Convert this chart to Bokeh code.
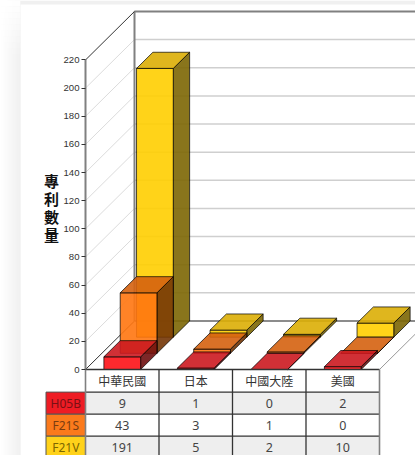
from bokeh.plotting import figure
from bokeh.embed import file_html
from bokeh.resources import INLINE
from bokeh.core.properties import value
from bokeh.models import FixedTicker

categories = ["中華民國", "日本", "中國大陸", "美國"]
series_names = ["H05B", "F21S", "F21V"]
h05b = [9, 1, 0, 2]
f21s = [43, 3, 1, 0]
f21v = [191, 5, 2, 10]
y_ticks = [0, 20, 40, 60, 80, 100, 120, 140, 160, 180, 200, 220]
y_title = ["專", "利", "數", "量"]

front_colors = ["#fe1217", "#ff760f", "#ffce00"]
top_colors = ["#cc1a20", "#d56210", "#dcae05"]
side_colors = ["#6f0f10", "#733505", "#7c6603"]
head_colors = ["#ee1c24", "#fb7a1c", "#ffd21a"]
head_text = ["#7a1014", "#7a3c10", "#7c6600"]
row_fill = ["#eeeeee", "#ffffff", "#eeeeee"]

# layout, in page pixels
W, H = 415, 455
X0, Y0, COL, PPU = 85.0, 369.0, 73.5, 1.407
DX, DY = 49.0, 48.5           # depth of the box
ROWS = [369.0, 391.6, 413.7, 435.7, 457.5]
HEAD_L = 45.5
TITLE_X, TITLE_Y, TITLE_STEP = 51.0, 179.5, 18.0

def cx(px): return (px - X0) / COL
def vy(px): return (Y0 - px) / PPU
def dep_x(d): return d * DX / COL
def dep_y(d): return d * DY / PPU

p = figure(width=W, height=H, output_backend="svg", toolbar_location=None,
           x_range=(cx(0), cx(W)), y_range=(vy(H), vy(0)),
           x_axis_location=None, min_border=0, min_border_left=0, min_border_right=0,
           min_border_top=0, min_border_bottom=0, outline_line_color=None,
           background_fill_color="#ffffff", border_fill_color="#ffffff")
p.grid.visible = False

# page shadow round the white sheet, fading out towards the top
shade = ["#ffffff", "#fefefe", "#fdfdfd", "#fcfcfc", "#fbfbfb", "#fafafa", "#f9f9f9", "#f8f8f8", "#f7f7f7", "#f6f6f6",
         "#f5f5f5", "#f4f4f4", "#f3f3f3", "#f2f2f2", "#f1f1f1", "#f0f0f0", "#efefef", "#eeeeee", "#ededed", "#ececec"]
for i, c in enumerate(shade):
    p.quad(left=cx(i), right=cx(i + 1), bottom=vy(H), top=vy(0), fill_color=c, line_color=None)
fade = [0.9, 0.8, 0.7, 0.6, 0.5, 0.4, 0.3, 0.2, 0.1]
for j, a in enumerate(fade):
    p.quad(left=cx(0), right=cx(20), bottom=vy(6 * (j + 1)), top=vy(6 * j), fill_color="#ffffff",
           fill_alpha=a, line_color=None)
p.quad(left=cx(20), right=cx(W), bottom=vy(4), top=vy(0), fill_color="#f0f0f0", line_color=None)

top = max(y_ticks)
n_cat = len(categories)
# back wall and side wall
for t in y_ticks[1:-1]:
    p.segment(x0=[0], y0=[t], x1=[dep_x(1)], y1=[t + dep_y(1)], line_color="#dcdcdc", line_width=1)
    p.segment(x0=[dep_x(1)], y0=[t + dep_y(1)], x1=[n_cat + dep_x(1)], y1=[t + dep_y(1)],
              line_color="#cfcfcf", line_width=1.5)
p.segment(x0=[dep_x(1)], y0=[top + dep_y(1)], x1=[n_cat + dep_x(1)], y1=[top + dep_y(1)], line_color="#808080", line_width=2)
p.segment(x0=[dep_x(1)], y0=[dep_y(1)], x1=[dep_x(1)], y1=[top + dep_y(1)], line_color="#808080", line_width=2)
p.segment(x0=[dep_x(1)], y0=[dep_y(1)], x1=[n_cat + dep_x(1)], y1=[dep_y(1)], line_color="#666666", line_width=1.5)
p.segment(x0=[0], y0=[top], x1=[dep_x(1)], y1=[top + dep_y(1)], line_color="#333333", line_width=1)
p.segment(x0=[0], y0=[0], x1=[dep_x(1)], y1=[dep_y(1)], line_color="#333333", line_width=1)
p.segment(x0=[n_cat], y0=[0], x1=[n_cat + dep_x(1)], y1=[dep_y(1)], line_color="#999999", line_width=1)

# 3-D bars, back row first
series = [h05b, f21s, f21v]
slot = 1 / len(series)
bw = 0.25
for s in reversed(range(len(series))):
    d0, d1 = s * slot, (s + 1) * slot
    for c, v in enumerate(series[s]):
        xl, xr = c + 0.5 - bw, c + 0.5 + bw
        x0a, x0b = xl + dep_x(d0), xr + dep_x(d0)
        x1a, x1b = xl + dep_x(d1), xr + dep_x(d1)
        y0b, y0t = dep_y(d0), v + dep_y(d0)
        y1b, y1t = dep_y(d1), v + dep_y(d1)
        st = dict(fill_alpha=0.9, line_color="#000000", line_alpha=0.7, line_width=1)
        p.patch([x0b, x1b, x1b, x0b], [y0b, y1b, y1t, y0t], fill_color=side_colors[s], **st)
        p.patch([x0a, x0b, x0b, x0a], [y0b, y0b, y0t, y0t], fill_color=front_colors[s], **st)
        p.patch([x0a, x0b, x1b, x1a], [y0t, y0t, y1t, y1t], fill_color=top_colors[s], **st)

# y axis
ax = p.yaxis[0]
ax.fixed_location = 0
ax.bounds = (0, top)
ax.ticker = FixedTicker(ticks=y_ticks)
ax.axis_line_color = "#808080"
ax.axis_line_width = 2
ax.major_tick_line_color = "#333333"
ax.major_tick_in = 0
ax.major_tick_out = 4
ax.minor_tick_line_color = None
ax.major_label_text_font = "Liberation Sans"
ax.major_label_text_font_size = "9.6px"
ax.major_label_text_color = "#333333"
ax.major_label_standoff = 2

p.text(x=[cx(TITLE_X)] * len(y_title), y=[vy(TITLE_Y + i * TITLE_STEP) for i in range(len(y_title))],
       text=y_title, text_font=value("Noto Sans CJK TC"),
       text_font_size="15px", text_font_style="bold", text_align="center",
       text_baseline="middle", text_color="#111111")

# data table
rows = len(series)
for r in range(rows):
    p.quad(left=[0], right=[n_cat], top=[vy(ROWS[r + 1])], bottom=[vy(ROWS[r + 2])],
           fill_color=row_fill[r], line_color=None)
    p.quad(left=[cx(HEAD_L)], right=[0], top=[vy(ROWS[r + 1])], bottom=[vy(ROWS[r + 2])],
           fill_color=head_colors[r], line_color="#555555", line_width=1)
    p.text(x=[cx((HEAD_L + X0) / 2)], y=[vy((ROWS[r + 1] + ROWS[r + 2]) / 2)], text=[series_names[r]],
           text_font=value("Noto Sans"), text_font_size="12px", text_align="center",
           text_baseline="middle", text_color=head_text[r])
    p.text(x=[c + 0.5 for c in range(n_cat)], y=[vy((ROWS[r + 1] + ROWS[r + 2]) / 2)] * n_cat,
           text=[str(v) for v in series[r]], text_font=value("Noto Sans"), text_font_size="12.5px",
           text_align="center", text_baseline="middle", text_color="#444444")
p.text(x=[c + 0.5 for c in range(n_cat)], y=[vy((ROWS[0] + ROWS[1]) / 2)] * n_cat, text=categories,
       text_font=value("Noto Sans CJK TC"), text_font_size="12px", text_align="center",
       text_baseline="middle", text_color="#333333")
for yp in ROWS:
    p.segment(x0=[0], y0=[vy(yp)], x1=[n_cat], y1=[vy(yp)], line_color="#333333", line_width=1.3)
for c in range(1, n_cat):
    p.segment(x0=[c], y0=[vy(ROWS[0])], x1=[c], y1=[vy(ROWS[-1])], line_color="#333333", line_width=1.3)
for c in (0, n_cat):
    p.segment(x0=[c], y0=[0], x1=[c], y1=[vy(ROWS[-1])], line_color="#808080", line_width=1.6)

open("out.html", "w").write(file_html(p, INLINE))
